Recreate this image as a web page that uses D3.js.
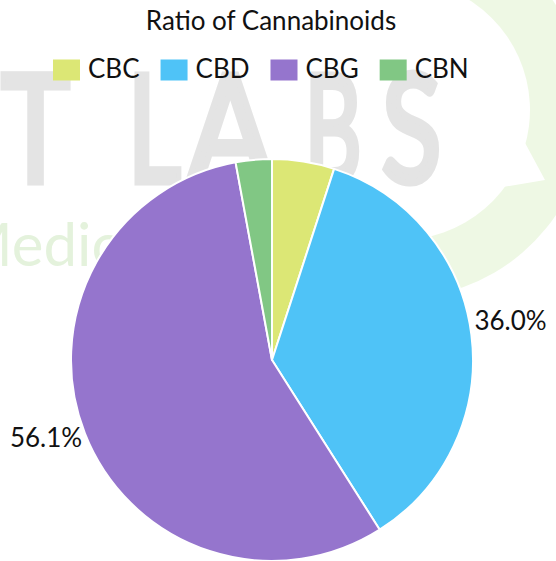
<!DOCTYPE html>
<html>
<head>
<meta charset="utf-8">
<script src="https://cdn.jsdelivr.net/npm/d3@7/dist/d3.min.js"></script>
<style>
  html, body { margin: 0; padding: 0; background: #ffffff; }
  svg { display: block; }
  text { font-family: Lato, "Noto Sans", sans-serif; }
</style>
</head>
<body>
<svg id="chart" width="556" height="561"></svg>
<script>
// ---- data ----
const categories = ["CBC", "CBD", "CBG", "CBN"];
const values = [5.0, 36.0, 56.1, 2.9];
const colors = ["#dce775", "#4fc3f7", "#9575cd", "#81c784"];
const titleText = "Ratio of Cannabinoids";
const labelThreshold = 0.10; // only label slices larger than this share

const W = 556, H = 561;
const cx = 272, cy = 360, R = 201;

const svg = d3.select("#chart");

// ---- background watermark (decorative logo) ----
const defs = svg.append("defs");
const grad = defs.append("linearGradient").attr("id", "ringGrad")
  .attr("gradientUnits", "userSpaceOnUse")
  .attr("x1", 430).attr("y1", 0).attr("x2", 556).attr("y2", 0);
grad.append("stop").attr("offset", "0%").attr("stop-color", "#eef8e4");
grad.append("stop").attr("offset", "100%").attr("stop-color", "#f5fde9");

const wm = svg.append("g").attr("class", "watermark");
const ring = d3.arc()
  .innerRadius(130).outerRadius(188)
  .startAngle(-0.5).endAngle(3.9);
wm.append("path").attr("d", ring()).attr("transform", "translate(400,110)")
  .attr("fill", "url(#ringGrad)");
wm.append("path").attr("d", "M524,141 L545,180 L503,187 Z").attr("fill", "#ffffff");

// letter, left x, target width
const wmLetters = [["T", -2, 75], ["L", 124, 60], ["A", 184, 93], ["B", 301, 64], ["S", 378, 67]];
const sw = 7;
const big = wm.selectAll("text.big").data(wmLetters).join("text")
  .attr("class", "big")
  .attr("x", 0).attr("y", 0)
  .attr("font-size", 150).attr("fill", "#e4e4e4")
  .attr("stroke", "#e4e4e4").attr("stroke-width", sw).attr("stroke-linejoin", "miter")
  .text(d => d[0]);
big.each(function(d) {
  const bb = this.getBBox();
  const sx = (d[2] - sw) / bb.width;
  d3.select(this).attr("transform",
    `translate(${d[1] + sw / 2 - bb.x * sx},181.5) scale(${sx},1)`);
});
wm.append("text").attr("x", -43).attr("y", 266)
  .attr("font-size", 60).attr("fill", "#e4f2dc").text("Medic");

// ---- title ----
svg.append("text")
  .attr("x", 271).attr("y", 30)
  .attr("text-anchor", "middle")
  .attr("font-size", 26)
  .attr("fill", "#111")
  .text(titleText);

// ---- legend ----
const color = d3.scaleOrdinal().domain(categories).range(colors);
const legend = svg.append("g").attr("class", "legend");
const boxW = 27, boxH = 21, boxGap = 8, itemGap = 21;
let lx = 53;
categories.forEach(c => {
  const g = legend.append("g").attr("transform", `translate(${lx},0)`);
  g.append("rect").attr("x", 0).attr("y", 59.5).attr("width", boxW).attr("height", boxH)
    .attr("fill", color(c));
  const t = g.append("text").attr("x", boxW + boxGap).attr("y", 78)
    .attr("font-size", 26).attr("fill", "#111").text(c);
  const tw = t.node().getComputedTextLength();
  lx += boxW + boxGap + tw + itemGap;
});

// ---- pie ----
const total = d3.sum(values);
const pie = d3.pie().sort(null).value(d => d.value);
const arcs = pie(categories.map((c, i) => ({ name: c, value: values[i] })));
const arc = d3.arc().innerRadius(0).outerRadius(R);

const pg = svg.append("g").attr("transform", `translate(${cx},${cy})`);
pg.selectAll("path").data(arcs).join("path")
  .attr("d", arc)
  .attr("fill", d => color(d.data.name))
  .attr("stroke", "#ffffff")
  .attr("stroke-width", 2)
  .attr("stroke-linejoin", "round");

// ---- outside percentage labels ----
pg.selectAll("text.lbl").data(arcs.filter(d => d.value / total > labelThreshold)).join("text")
  .attr("class", "lbl")
  .each(function(d) {
    const a = (d.startAngle + d.endAngle) / 2;
    const x = Math.sin(a) * (R + 3);
    const y = -Math.cos(a) * (R + 38);
    d3.select(this)
      .attr("x", x).attr("y", y)
      .attr("text-anchor", Math.sin(a) >= 0 ? "start" : "end");
  })
  .attr("font-size", 26)
  .attr("fill", "#111")
  .text(d => (d.value / total * 100).toFixed(1) + "%");
</script>
</body>
</html>
